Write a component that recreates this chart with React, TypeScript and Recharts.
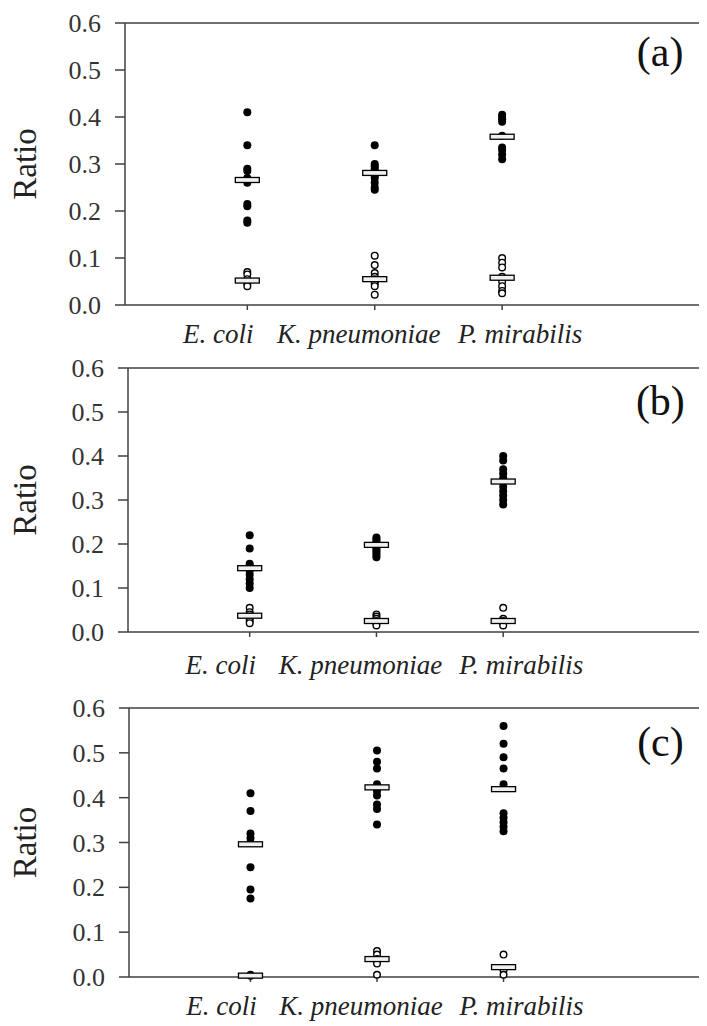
import React from "react";
import {
  ScatterChart,
  Scatter,
  XAxis,
  YAxis,
  ReferenceLine,
  ReferenceDot,
} from "recharts";

const categories = ["E. coli", "K. pneumoniae", "P. mirabilis"];
const yTicks = [0, 0.1, 0.2, 0.3, 0.4, 0.5, 0.6];

// (a)
const aFilled = [
  [0.41, 0.34, 0.29, 0.285, 0.27, 0.26, 0.215, 0.21, 0.18, 0.175],
  [0.34, 0.3, 0.295, 0.29, 0.285, 0.275, 0.27, 0.26, 0.25, 0.245],
  [0.405, 0.4, 0.395, 0.39, 0.36, 0.335, 0.33, 0.32, 0.31],
];
const aOpen = [
  [0.07, 0.065, 0.055, 0.05, 0.045, 0.04],
  [0.105, 0.085, 0.068, 0.06, 0.055, 0.05, 0.045, 0.04, 0.022],
  [0.1, 0.09, 0.08, 0.06, 0.05, 0.04, 0.03, 0.025],
];
const aFilledMean = [0.266, 0.281, 0.358];
const aOpenMean = [0.052, 0.055, 0.058];

// (b)
const bFilled = [
  [0.22, 0.19, 0.155, 0.15, 0.145, 0.14, 0.13, 0.12, 0.11, 0.1],
  [0.215, 0.21, 0.205, 0.2, 0.195, 0.19, 0.185, 0.18, 0.175, 0.17],
  [0.4, 0.39, 0.37, 0.36, 0.35, 0.33, 0.32, 0.31, 0.3, 0.29],
];
const bOpen = [
  [0.055, 0.045, 0.04, 0.035, 0.03, 0.025, 0.02],
  [0.04, 0.035, 0.03, 0.025, 0.02, 0.015],
  [0.055, 0.03, 0.025, 0.02, 0.015],
];
const bFilledMean = [0.145, 0.198, 0.342];
const bOpenMean = [0.037, 0.025, 0.025];

// (c)
const cFilled = [
  [0.41, 0.37, 0.32, 0.31, 0.3, 0.245, 0.195, 0.175],
  [0.505, 0.48, 0.465, 0.43, 0.415, 0.405, 0.385, 0.375, 0.34],
  [0.56, 0.52, 0.49, 0.465, 0.43, 0.365, 0.355, 0.345, 0.335, 0.325],
];
const cOpen = [
  [0.005, 0.003],
  [0.058, 0.05, 0.04, 0.03, 0.005],
  [0.05, 0.015, 0.005],
];
const cFilledMean = [0.296, 0.423, 0.419];
const cOpenMean = [0.003, 0.04, 0.022];

const toPoints = (groups: number[][]) =>
  groups.flatMap((vals, i) => vals.map((v) => ({ x: i + 1, y: v })));
const toMeans = (vals: number[]) => vals.map((v, i) => ({ x: i + 1, y: v }));

const AXIS = "#404040";
const SERIF = "Liberation Serif";
// the species names sit as one line of text, not centred on their ticks
const labelShift = [-29, -16, 18];

const FilledDot = (p: any) => <circle cx={p.cx} cy={p.cy} r={4} fill="#000" />;
const OpenDot = (p: any) => (
  <circle cx={p.cx} cy={p.cy} r={3.3} fill="#fff" stroke="#000" strokeWidth={1.4} />
);
const MeanBar = (p: any) => (
  <rect
    x={p.cx - 12}
    y={p.cy - 2.5}
    width={24}
    height={5}
    fill="#f0f0f0"
    stroke="#000"
    strokeWidth={1.3}
  />
);

function SpeciesTick({ x, y, payload, baseline }: any) {
  const i = Math.round(payload.value) - 1;
  return (
    <text
      x={x + (labelShift[i] ?? 0)}
      y={y + baseline}
      textAnchor="middle"
      fill="#222"
      fontSize={27}
      fontStyle="italic"
      fontFamily={SERIF}
      style={{ fontFamily: SERIF, fontStyle: "italic" }}
    >
      {categories[i]}
    </text>
  );
}

function ValueTick({ x, y, payload }: any) {
  return (
    <text
      x={x}
      y={y}
      dy={9}
      textAnchor="end"
      fill="#333"
      fontSize={26}
      fontFamily={SERIF}
      style={{ fontFamily: SERIF }}
    >
      {Number(payload.value).toFixed(1)}
    </text>
  );
}

interface PanelProps {
  tag: string;
  filled: number[][];
  open: number[][];
  filledMean: number[];
  openMean: number[];
  height: number;
  top: number;
  axisWidth: number;
  xAxisHeight: number;
  labelBaseline: number;
  tagY: number;
}

function Panel({
  tag,
  filled,
  open,
  filledMean,
  openMean,
  height,
  top,
  axisWidth,
  xAxisHeight,
  labelBaseline,
  tagY,
}: PanelProps) {
  return (
    <ScatterChart
      width={707}
      height={height}
      margin={{ top, right: 1, bottom: 0, left: 0 }}
    >
      <XAxis
        type="number"
        dataKey="x"
        domain={[0.04, 4.6]}
        ticks={[1, 2, 3]}
        interval={0}
        allowDataOverflow
        height={xAxisHeight}
        stroke={AXIS}
        strokeWidth={1.5}
        tickSize={5}
        tickMargin={2}
        tick={<SpeciesTick baseline={labelBaseline} />}
      />
      <YAxis
        type="number"
        dataKey="y"
        domain={[0, 0.6]}
        ticks={yTicks}
        interval={0}
        width={axisWidth}
        stroke={AXIS}
        strokeWidth={1.5}
        tickSize={10}
        tickMargin={14}
        tick={<ValueTick />}
        label={{
          content: (props: any) => {
            const vb = props.viewBox || {};
            const cy = (vb.y ?? 0) + (vb.height ?? 0) / 2;
            return (
              <text
                x={25}
                y={cy}
                transform={`rotate(-90 25 ${cy})`}
                textAnchor="middle"
                dy={11}
                fill="#222"
                fontSize={33}
                fontFamily={SERIF}
                style={{ fontFamily: SERIF }}
              >
                Ratio
              </text>
            );
          },
        }}
      />
      <ReferenceLine y={0.6} stroke={AXIS} strokeWidth={1.5} />
      <ReferenceLine x={4.6} stroke="#aaa" strokeWidth={1} />
      <ReferenceDot
        x={4.24}
        y={tagY}
        r={0}
        fill="none"
        stroke="none"
        label={{
          content: (props: any) => {
            const vb = props.viewBox || {};
            return (
              <text
                x={vb.x}
                y={vb.y}
                dy={14}
                textAnchor="middle"
                fill="#111"
                fontSize={42}
                fontFamily={SERIF}
                style={{ fontFamily: SERIF }}
              >
                {tag}
              </text>
            );
          },
        }}
      />
      <Scatter
        data={toPoints(filled)}
        shape={FilledDot}
        isAnimationActive={false}
      />
      <Scatter
        data={toPoints(open)}
        shape={OpenDot}
        isAnimationActive={false}
      />
      <Scatter
        data={toMeans(filledMean)}
        shape={MeanBar}
        isAnimationActive={false}
      />
      <Scatter
        data={toMeans(openMean)}
        shape={MeanBar}
        isAnimationActive={false}
      />
    </ScatterChart>
  );
}

export default function App() {
  return (
    <div style={{ margin: "-8px 0 0 -8px", width: 707, fontFamily: SERIF }}>
      <div style={{ height: 340, overflow: "visible" }}>
        <Panel
          tag="(a)"
          filled={aFilled}
          open={aOpen}
          filledMean={aFilledMean}
          openMean={aOpenMean}
          height={360}
          top={23}
          axisWidth={125}
          xAxisHeight={55}
          labelBaseline={31}
          tagY={0.538}
        />
      </div>
      <div style={{ height: 330, overflow: "visible" }}>
        <Panel
          tag="(b)"
          filled={bFilled}
          open={bOpen}
          filledMean={bFilledMean}
          openMean={bOpenMean}
          height={355}
          top={28}
          axisWidth={128}
          xAxisHeight={63}
          labelBaseline={35}
          tagY={0.525}
        />
      </div>
      <div style={{ height: 356 }}>
        <Panel
          tag="(c)"
          filled={cFilled}
          open={cOpen}
          filledMean={cFilledMean}
          openMean={cOpenMean}
          height={356}
          top={38}
          axisWidth={129}
          xAxisHeight={49}
          labelBaseline={31}
          tagY={0.525}
        />
      </div>
    </div>
  );
}
